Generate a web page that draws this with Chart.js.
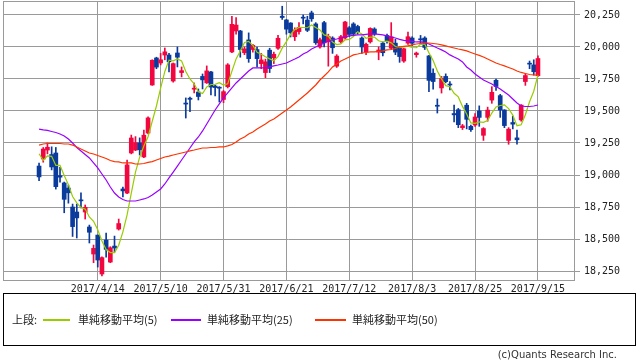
<!DOCTYPE html>
<html>
<head>
<meta charset="utf-8">
<script src="https://cdn.jsdelivr.net/npm/chart.js@4.4.0/dist/chart.umd.min.js"></script>
<style>
  body { margin: 0; background: #fff; width: 638px; height: 362px; position: relative; overflow: hidden; }
  #wrap { position: absolute; left: 0; top: 0; width: 638px; height: 300px; }
  #legend { position: absolute; left: 3px; top: 293px; width: 631px; height: 51px; border: 1px solid #000;
            font-family: 'Noto Sans CJK JP', sans-serif; font-size: 11px; color: #222; }
  #legend span { position: absolute; top: 18px; line-height: 14px; white-space: nowrap; }
  #legend b { position: absolute; display: block; top: 25px; height: 0; border-top: 2px solid; }
  #copy { position: absolute; right: 21px; top: 349px; font-family: 'DejaVu Sans', sans-serif; font-size: 10px; color: #333; }
</style>
</head>
<body>
<div id="wrap"><canvas id="candle-chart" width="638" height="300"></canvas></div>
<div id="legend">
  <span style="left:8px">上段:</span>
  <b style="left:39px;width:27px;border-color:#99cc00"></b>
  <span style="left:74px">単純移動平均(5)</span>
  <b style="left:167px;width:30px;border-color:#9900ff"></b>
  <span style="left:203px">単純移動平均(25)</span>
  <b style="left:311px;width:31px;border-color:#ff3300"></b>
  <span style="left:348px">単純移動平均(50)</span>
</div>
<div id="copy">(c)Quants Research Inc.</div>
<script>
// Daily prices 2017/3/27 - 2017/9/15 (one entry per trading day)
const opens = [19070,19125,19195,19160,19172,18995,18938,18898,18750,18711,
  18805,18711,18594,18383,18531,18227,18492,18320,18445,18578,
  18891,18859,19172,19195,19250,19141,19328,19703,19914,19875,
  19937,19937,19734,19953,19800,19562,19600,19670,19648,19770,
  19720,19805,19695,19686,19590,19690,19961,20125,20125,19955,
  20055,19980,19980,19870,19800,19975,19915,19990,20240,20211,
  20187,20080,20120,20230,20210,20266,20180,20000,20190,20040,
  20070,19850,20040,20070,20150,20180,20160,20070,19960,20040,
  20140,19960,20030,20090,19990,20030,19990,19890,20030,20070,
  19940,20060,20070,19930,19795,19545,19680,19770,19710,19480,
  19510,19370,19545,19380,19390,19500,19310,19450,19585,19740,
  19620,19508,19270,19410,19290,19430,19730,19870,19860,19775];
const highs = [19094,19215,19250,19220,19215,19060,18945,18922,18773,18773,
  18860,18766,18609,18453,18531,18360,18547,18440,18523,18656,
  18906,19117,19312,19300,19290,19350,19455,19900,19920,19950,
  19992,19950,19875,20000,19844,19602,19609,19719,19672,19789,
  19852,19810,19700,19690,19660,19870,20240,20230,20130,20000,
  20110,20020,20000,19950,19905,19990,19960,20090,20318,20215,
  20190,20150,20190,20250,20240,20280,20190,20070,20200,20100,
  20080,19940,20090,20200,20160,20190,20170,20080,20030,20150,
  20150,20000,20040,20100,20190,20060,20000,19990,20117,20080,
  19960,20090,20080,19935,19830,19594,19770,19790,19730,19547,
  19520,19395,19560,19390,19480,19540,19370,19530,19690,19750,
  19630,19510,19370,19460,19350,19550,19790,19890,19900,19930];
const lows = [18955,19100,19165,19040,18890,18945,18705,18780,18520,18508,
  18742,18656,18469,18315,18281,18211,18359,18315,18398,18570,
  18828,18855,19165,19190,19156,19135,19320,19700,19830,19860,
  19900,19805,19725,19844,19766,19445,19495,19641,19586,19672,
  19715,19625,19617,19570,19565,19680,19955,20100,19920,19940,
  19880,19960,19845,19830,19760,19800,19870,19980,20215,20100,
  20078,20050,20100,20180,20120,20200,20020,19990,20000,19850,
  19950,19840,20030,20060,20080,20090,20100,19950,19940,20030,
  20090,19900,19930,20030,19980,19940,19880,19880,20020,20010,
  19920,20020,19980,19650,19670,19484,19640,19720,19665,19415,
  19370,19355,19360,19340,19380,19380,19270,19420,19560,19660,
  19450,19370,19240,19360,19240,19420,19700,19830,19780,19770];
const closes = [18985,19203,19217,19063,18909,18983,18810,18861,18597,18665,
  18798,18748,18553,18427,18336,18355,18419,18432,18430,18621,
  18876,19079,19289,19252,19197,19311,19446,19896,19843,19900,
  19962,19884,19870,19920,19815,19554,19591,19678,19613,19743,
  19813,19687,19683,19678,19651,19860,20177,20171,19980,19985,
  19909,20013,19909,19899,19884,19832,19943,20068,20230,20139,
  20111,20133,20153,20225,20130,20220,20033,20056,20032,20082,
  19994,19929,20081,20195,20098,20100,20119,20000,20021,20145,
  20100,19976,19955,20050,20080,19960,19925,19986,20080,20029,
  19952,20056,19996,19739,19730,19537,19753,19729,19703,19470,
  19393,19384,19435,19354,19453,19450,19363,19507,19646,19691,
  19508,19386,19358,19397,19275,19546,19777,19866,19807,19910];

// moving averages
const ma5 = [19166,19115,19150,19146,19075,19075,18996,18925,18832,18783,
  18746,18734,18672,18638,18572,18484,18418,18394,18394,18451,
  18556,18688,18859,19023,19139,19226,19299,19420,19539,19679,
  19809,19897,19892,19907,19890,19809,19750,19712,19650,19636,
  19688,19707,19708,19721,19702,19712,19810,19907,19968,20035,
  20044,20012,19959,19943,19923,19907,19893,19925,19991,20042,
  20098,20136,20153,20152,20150,20172,20152,20133,20094,20085,
  20039,20019,20024,20056,20059,20081,20119,20102,20068,20077,
  20077,20048,20039,20045,20032,20004,19994,20000,20006,19996,
  19994,20021,20023,19954,19895,19812,19751,19698,19690,19638,
  19610,19536,19477,19407,19404,19415,19411,19425,19484,19531,
  19543,19548,19518,19468,19385,19392,19471,19572,19654,19781];
const ma25 = [19359,19352,19348,19340,19332,19320,19305,19281,19250,19215,
  19188,19160,19133,19094,19055,19008,18961,18906,18859,18828,
  18809,18797,18797,18797,18805,18813,18824,18844,18867,18891,
  18930,18977,19023,19070,19117,19164,19211,19258,19297,19344,
  19398,19453,19508,19555,19602,19641,19680,19719,19750,19781,
  19812,19836,19836,19836,19836,19844,19852,19859,19867,19875,
  19891,19906,19922,19945,19961,19984,20000,20016,20031,20047,
  20055,20062,20070,20078,20086,20090,20094,20094,20098,20102,
  20102,20098,20094,20086,20078,20070,20059,20051,20047,20043,
  20039,20039,20035,20023,20008,19992,19977,19961,19938,19922,
  19906,19883,19844,19820,19789,19766,19742,19727,19711,19691,
  19672,19648,19625,19594,19563,19539,19535,19535,19539,19547];
const ma50 = [19234,19242,19246,19246,19246,19246,19242,19242,19234,19219,
  19203,19188,19172,19164,19152,19141,19129,19113,19105,19102,
  19094,19094,19094,19086,19086,19090,19098,19105,19117,19129,
  19141,19148,19156,19164,19172,19180,19188,19195,19203,19211,
  19211,19215,19215,19219,19219,19227,19238,19258,19281,19297,
  19320,19336,19359,19379,19398,19422,19438,19461,19484,19508,
  19531,19559,19586,19613,19641,19672,19703,19742,19773,19805,
  19844,19867,19891,19906,19922,19938,19945,19953,19957,19961,
  19961,19965,19969,19977,19980,19988,20000,20004,20008,20016,
  20023,20027,20031,20031,20027,20023,20016,20008,20000,19992,
  19984,19977,19969,19957,19945,19934,19922,19906,19891,19875,
  19863,19852,19840,19828,19812,19801,19793,19785,19781,19781];

// axis labels
const tickIndex = [14, 29, 44, 59, 74, 89, 104, 119];
const tickLabels = ['2017/4/14', '2017/5/10', '2017/5/31', '2017/6/21',
  '2017/7/12', '2017/8/3', '2017/8/25', '2017/9/15'];
const yTicks = [18250, 18500, 18750, 19000, 19250, 19500, 19750, 20000, 20250];

const RED = '#f2063f';
const BLUE = '#0a3a9c';
const GRID = '#9a9a9a';

const candleColors = closes.map((c, i) => c >= opens[i] ? RED : BLUE);

function lineSet(values, color) {
  return {
    type: 'line',
    data: values.map((v, i) => ({ x: i, y: v })),
    borderColor: color,
    borderWidth: 1.2,
    pointRadius: 0,
    tension: 0,
    order: 1
  };
}

// frame around the plot area
const frame = {
  id: 'frame',
  beforeDatasetsDraw(chart) {
    const { ctx, chartArea: a } = chart;
    ctx.save();
    ctx.strokeStyle = GRID;
    ctx.lineWidth = 1;
    ctx.strokeRect(Math.round(a.left) + 0.5, Math.round(a.top) + 0.5,
      Math.round(a.right - a.left), Math.round(a.bottom - a.top));
    ctx.restore();
  }
};

const tickFont = { family: 'DejaVu Sans Mono', size: 10 };

new Chart(document.getElementById('candle-chart'), {
  type: 'bar',
  data: {
    datasets: [
      {
        data: closes.map((c, i) => ({ x: i, y: [lows[i], highs[i]] })),
        backgroundColor: candleColors,
        barThickness: 1,
        grouped: false,
        order: 3
      },
      {
        data: closes.map((c, i) => ({ x: i, y: [opens[i], c] })),
        backgroundColor: candleColors,
        barThickness: 4,
        minBarLength: 1,
        grouped: false,
        order: 2
      },
      lineSet(ma50, '#ff3300'),
      lineSet(ma25, '#9900ff'),
      lineSet(ma5, '#99cc00')
    ]
  },
  options: {
    responsive: false,
    animation: false,
    layout: { padding: { left: 3, top: 1, right: 0, bottom: 0 } },
    plugins: { legend: { display: false }, tooltip: { enabled: false } },
    scales: {
      x: {
        type: 'linear',
        min: -8.6,
        max: 127.6,
        offset: false,
        afterBuildTicks: (s) => { s.ticks = tickIndex.map(v => ({ value: v })); },
        afterFit: (s) => { s.height = 20; s.paddingLeft = 0; s.paddingRight = 0; },
        ticks: {
          callback: (v, i) => tickLabels[i],
          autoSkip: false,
          maxRotation: 0,
          padding: 3,
          color: '#222',
          font: tickFont
        },
        grid: { color: GRID, drawTicks: false, offset: false },
        border: { color: GRID }
      },
      y: {
        position: 'right',
        min: 18180,
        max: 20359,
        afterBuildTicks: (s) => { s.ticks = yTicks.map(v => ({ value: v })); },
        afterFit: (s) => { s.width = 64; s.paddingTop = 0; s.paddingBottom = 0; },
        ticks: {
          callback: (v) => v.toLocaleString('en-US'),
          padding: 4,
          color: '#222',
          font: tickFont
        },
        grid: { color: GRID, tickLength: 6 },
        border: { color: GRID }
      }
    }
  },
  plugins: [frame]
});
</script>
</body>
</html>
